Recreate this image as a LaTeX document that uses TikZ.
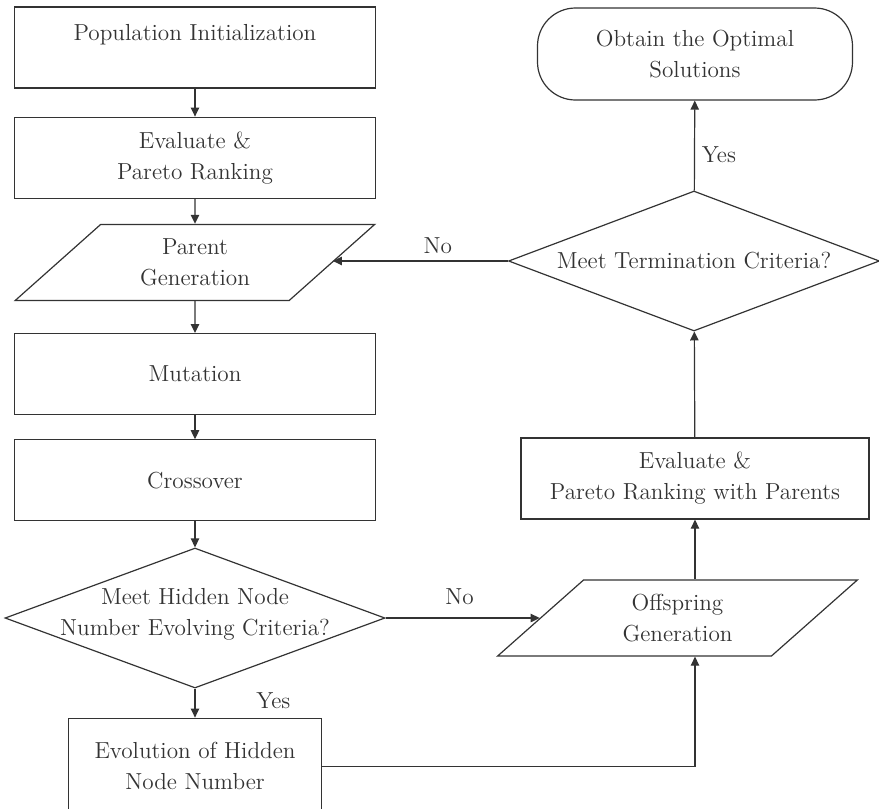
\documentclass[tikz,border=0pt]{standalone}
\usetikzlibrary{arrows.meta,positioning,shapes.geometric}
\definecolor{ink}{HTML}{333333}
\tikzset{
  procbox/.style={draw=ink,text=ink,line width=0.6pt,align=center,font=\fontsize{11.6}{15.5}\selectfont,
    minimum width=#1,minimum height=40.5pt,inner sep=3pt},
  procbox/.default=180.5pt,
  iobox/.style={trapezium,trapezium stretches=true,trapezium left angle=46,trapezium right angle=134,
    draw=ink,text=ink,line width=0.6pt,align=center,font=\fontsize{11.6}{15.5}\selectfont,
    minimum width=180pt,minimum height=38pt,inner sep=2pt},
  decide/.style={diamond,draw=ink,line width=0.6pt,inner sep=0pt,minimum width=#1,minimum height=70pt},
  endcap/.style={draw=ink,text=ink,line width=0.6pt,rounded corners=19pt,align=center,
    font=\fontsize{11.6}{15.5}\selectfont,minimum width=157.5pt,minimum height=46pt},
  flow/.style={-{Triangle[length=4.5pt,width=4.2pt]},draw=ink,line width=0.6pt},
  lbl/.style={font=\fontsize{11.6}{15.5}\selectfont,text=ink,align=center},
}

\begin{document}
\begin{tikzpicture}[x=0.5pt,y=-0.5pt]
  \useasboundingbox (0,0) rectangle (879,809);
  % left column
  \node[procbox] (pop) at (195,47.5) {Population Initialization\\~};
  \node[procbox,below=14pt of pop] (eval) {Evaluate \&\\Pareto Ranking};
  \node[iobox,below=12.5pt of eval] (parent) {Parent\\Generation};
  \node[procbox,below=16pt of parent] (mut) {Mutation};
  \node[procbox,below=12pt of mut] (cross) {Crossover};
  \node[decide=190pt,below=13pt of cross,
    label={[lbl,yshift=2pt]center:{Meet Hidden Node\\Number Evolving Criteria?}}] (hid) {};
  \node[procbox=126.5pt,minimum height=48pt,below=14.5pt of hid] (evo) {Evolution of Hidden\\Node Number};
  % right column
  \node[endcap] (done) at (695,54) {Obtain the Optimal\\Solutions};
  \node[decide=185.5pt,label={[lbl]center:Meet Termination Criteria?}] (term) at (694,261) {};
  \node[procbox=174pt] (ev2) at (695,478.5) {Evaluate \&\\Pareto Ranking with Parents};
  \node[iobox] (off) at (677.5,618) {Offspring\\Generation};

  \draw[flow] (pop) -- (eval);
  \draw[flow] (eval) -- (parent);
  \draw[flow] (parent) -- (mut);
  \draw[flow] (mut) -- (cross);
  \draw[flow] (cross) -- (hid);
  \draw[flow] (hid) -- node[lbl,right,pos=0.4,xshift=27pt] {Yes} (evo);
  \draw[flow] (hid.east) -- node[lbl,above,pos=0.48,yshift=3pt] {No} (hid.east -| off.west);
  \draw[flow] (evo.east) -| (off.south -| ev2.south);
  \draw[flow] (off.north -| ev2.south) -- (ev2.south);
  \draw[flow] (ev2) -- (term);
  \draw[flow] (term) -- node[lbl,right,pos=0.4] {Yes} (done);
  \draw[flow] (term.west) -- node[lbl,above,pos=0.4] {No} (term.west -| parent.east);
\end{tikzpicture}
\end{document}
